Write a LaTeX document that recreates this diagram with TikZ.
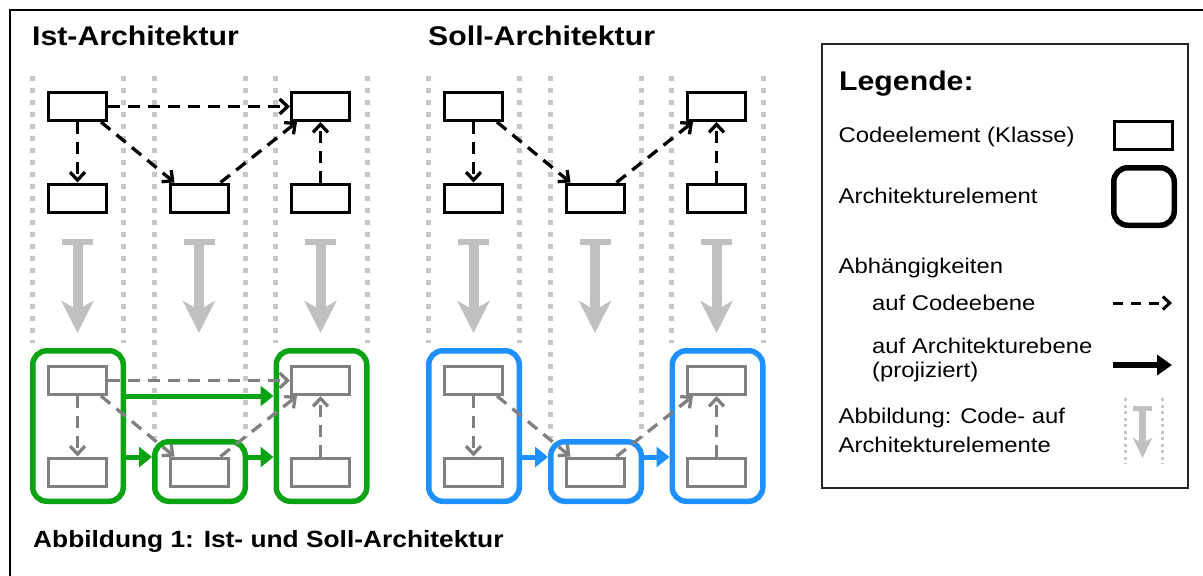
\documentclass[tikz,border=0pt]{standalone}
\usepackage{fontspec}
\setmainfont{Liberation Sans}[FakeStretch=1.12]
\usetikzlibrary{arrows.meta}
\definecolor{lanegray}{RGB}{198,198,198}
\definecolor{mapgray}{RGB}{192,192,192}
\definecolor{codegray}{RGB}{128,128,128}
\definecolor{istgreen}{RGB}{10,163,20}
\definecolor{sollblue}{RGB}{30,144,255}
\begin{document}
\begin{tikzpicture}[x=1pt,y=-1pt,
  lane/.style={draw=lanegray, line width=5pt, dash pattern=on 5pt off 7pt},
  smalllane/.style={draw=lanegray, line width=3pt, dash pattern=on 3pt off 3.5pt},
  code/.style={draw, line width=3pt, rectangle, inner sep=0pt, minimum width=58pt, minimum height=28pt},
  arch/.style={draw, line width=5.5pt, rounded corners=14pt, inner sep=0pt, minimum width=90.5pt},
  dep/.style={line width=3.3pt, dash pattern=on 12pt off 8pt, -{Straight Barb[length=8pt,width=15pt]}},
  projdep/.style={line width=5pt, -{Triangle[length=13pt,width=20pt]}},
  mapbar/.style={fill=mapgray, inner sep=0pt, minimum width=31pt, minimum height=6pt},
  mapshaft/.style={draw=mapgray, line width=10pt, -{Stealth[length=32pt,width=32pt,inset=9pt]}},
  txt/.style={inner sep=0pt, anchor=base west, font=\fontsize{21.3}{24}\selectfont},
  heading/.style={inner sep=0pt, anchor=base west, font=\fontsize{27}{30}\selectfont\bfseries},
]
\useasboundingbox (0,0) rectangle (1203,576);

% outer frame (runs off the page at right and bottom)
\draw[line width=2pt] (9.5,620) -- (9.5,9.5) -- (1240,9.5);

% ---------------- Ist-Architektur ----------------
\node[heading] (istTitle) at (32,45.7) {Ist-Architektur};

\foreach \x in {32.3,123.7,275.7,367} \draw[lane] (\x,76) -- (\x,343);
\foreach \x in {154,245} \draw[lane] (\x,76) -- (\x,438);

% code level
\node[code] (i11) at (77.5,106.5) {};
\node[code] (i12) at (77.5,198) {};
\node[code] (i22) at (199,198) {};
\node[code] (i31) at (320.5,106.5) {};
\node[code] (i32) at (320.5,198) {};
\draw[dep] (i11.east) -- (i31.west);
\draw[dep] (i11.south) -- (i12.north);
\draw[dep] ([xshift=-7pt]i11.south east) -- ([xshift=6pt]i22.north west);
\draw[dep] ([xshift=-9pt]i22.north east) -- ([xshift=7pt]i31.south west);
\draw[dep] (i32.north) -- (i31.south);

% mapping code -> architecture
\foreach \c/\x in {1/77.5,2/199,3/320.5} {
  \node[mapbar] (ib\c) at (\x,242) {};
  \coordinate (ih\c) at (\x,333);
  \draw[mapshaft] (ib\c.center) -- (ih\c);
}

% architecture level
\node[arch, draw=istgreen, minimum height=150.5pt] (ig1) at (78,426) {};
\node[arch, draw=istgreen, minimum height=59.5pt] (ig2) at (200,471.5) {};
\node[arch, draw=istgreen, minimum height=150.5pt] (ig3) at (321.5,426) {};
\node[code, draw=codegray] (j11) at (77.5,380.5) {};
\node[code, draw=codegray] (j12) at (77.5,472) {};
\node[code, draw=codegray] (j22) at (199,472) {};
\node[code, draw=codegray] (j31) at (320.5,380.5) {};
\node[code, draw=codegray] (j32) at (320.5,472) {};
\draw[dep, draw=codegray] (j11.east) -- (j31.west);
\draw[dep, draw=codegray] (j11.south) -- (j12.north);
\draw[dep, draw=codegray] ([xshift=-7pt]j11.south east) -- ([xshift=6pt]j22.north west);
\draw[dep, draw=codegray] ([xshift=-9pt]j22.north east) -- ([xshift=7pt]j31.south west);
\draw[dep, draw=codegray] (j32.north) -- (j31.south);
\draw[projdep, draw=istgreen, fill=istgreen] ([yshift=30pt]ig1.east) -- ([yshift=30pt]ig3.west);
\draw[projdep, draw=istgreen, fill=istgreen] ([yshift=-31pt]ig1.east) -- ([yshift=14.5pt]ig2.west);
\draw[projdep, draw=istgreen, fill=istgreen] ([yshift=14.5pt]ig2.east) -- ([yshift=-31pt]ig3.west);

% ---------------- Soll-Architektur ----------------
\node[heading] (sollTitle) at (428,45.7) {Soll-Architektur};
\begin{scope}[xshift=396pt]
\foreach \x in {32.3,123.7,275.7,367} \draw[lane] (\x,76) -- (\x,343);
\foreach \x in {154,245} \draw[lane] (\x,76) -- (\x,438);

\node[code] (s11) at (77.5,106.5) {};
\node[code] (s12) at (77.5,198) {};
\node[code] (s22) at (199,198) {};
\node[code] (s31) at (320.5,106.5) {};
\node[code] (s32) at (320.5,198) {};
\draw[dep] (s11.south) -- (s12.north);
\draw[dep] ([xshift=-7pt]s11.south east) -- ([xshift=6pt]s22.north west);
\draw[dep] ([xshift=-9pt]s22.north east) -- ([xshift=7pt]s31.south west);
\draw[dep] (s32.north) -- (s31.south);

\foreach \c/\x in {1/77.5,2/199,3/320.5} {
  \node[mapbar] (sb\c) at (\x,242) {};
  \coordinate (sh\c) at (\x,333);
  \draw[mapshaft] (sb\c.center) -- (sh\c);
}

\node[arch, draw=sollblue, minimum height=150.5pt] (sg1) at (78,426) {};
\node[arch, draw=sollblue, minimum height=59.5pt] (sg2) at (200,471.5) {};
\node[arch, draw=sollblue, minimum height=150.5pt] (sg3) at (321.5,426) {};
\node[code, draw=codegray] (t11) at (77.5,380.5) {};
\node[code, draw=codegray] (t12) at (77.5,472) {};
\node[code, draw=codegray] (t22) at (199,472) {};
\node[code, draw=codegray] (t31) at (320.5,380.5) {};
\node[code, draw=codegray] (t32) at (320.5,472) {};
\draw[dep, draw=codegray] (t11.south) -- (t12.north);
\draw[dep, draw=codegray] ([xshift=-7pt]t11.south east) -- ([xshift=6pt]t22.north west);
\draw[dep, draw=codegray] ([xshift=-9pt]t22.north east) -- ([xshift=7pt]t31.south west);
\draw[dep, draw=codegray] (t32.north) -- (t31.south);
\draw[projdep, draw=sollblue, fill=sollblue] ([yshift=-31pt]sg1.east) -- ([yshift=14.5pt]sg2.west);
\draw[projdep, draw=sollblue, fill=sollblue] ([yshift=14.5pt]sg2.east) -- ([yshift=-31pt]sg3.west);
\end{scope}

% caption
\node[inner sep=0pt, anchor=base west, font=\fontsize{23.5}{26}\selectfont\bfseries] (caption) at (33,547) {Abbildung 1: Ist- und Soll-Architektur};

% ---------------- legend ----------------
\draw[line width=1.5pt, draw=black!85] (822,44) rectangle (1188,488);
\node[heading] (legTitle) at (839,90) {Legende:};
\node[txt] (legCode) at (838.5,142) {Codeelement (Klasse)};
\node[code] (legCodeBox) at (1143.5,135) {};
\node[txt] (legArch) at (838.5,203) {Architekturelement};
\node[arch, minimum width=60.5pt, minimum height=57.5pt] (legArchBox) at (1144,196.5) {};
\node[txt] (legDeps) at (838.5,273) {Abhängigkeiten};
\node[txt] (legCodeDep) at (872,310) {auf Codeebene};
\coordinate (cdA) at (1113,303);
\coordinate (cdB) at (1172,303);
\draw[line width=3pt, dash pattern=on 10pt off 8pt, -{Straight Barb[length=7pt,width=13pt]}] (cdA) -- (cdB);
\node[txt] (legArchDep) at (872,353) {auf Architekturebene};
\node[txt] (legArchDep2) at (872,377) {(projiziert)};
\coordinate (adA) at (1113,365);
\coordinate (adB) at (1172,365);
\draw[line width=5.5pt, -{Triangle[length=15pt,width=20pt]}] (adA) -- (adB);
\node[txt] (legMap) at (838.5,423) {Abbildung: Code- auf};
\node[txt] (legMap2) at (838.5,452) {Architekturelemente};
\draw[smalllane] (1125,398) -- (1125,464);
\draw[smalllane] (1162,398) -- (1162,464);
\node[fill=mapgray, inner sep=0pt, minimum width=19pt, minimum height=5pt] (legBar) at (1142.5,408) {};
\coordinate (legTip) at (1142.5,458);
\draw[draw=mapgray, line width=6.5pt, -{Stealth[length=20pt,width=19pt,inset=5pt]}] (legBar.center) -- (legTip);
\end{tikzpicture}
\end{document}
